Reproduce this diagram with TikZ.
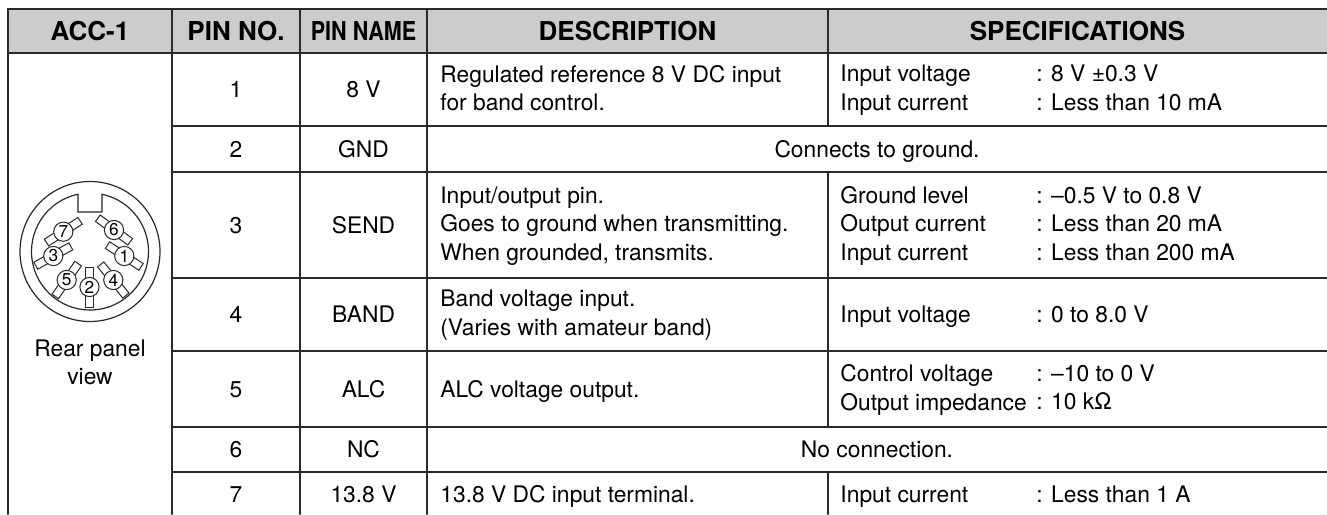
\documentclass[tikz,border=0pt]{standalone}
\usepackage{fontspec}
\setmainfont{TeX Gyre Heros}
\usetikzlibrary{calc,positioning}
\definecolor{rule}{HTML}{2A2A2A}
\definecolor{headgray}{HTML}{CCCCCC}

\begin{document}
\begin{tikzpicture}[x=0.5pt,y=-0.5pt,line cap=round]
      \useasboundingbox (0,0) rectangle (1327,514);

      \tikzstyle{grid}=[line width=1pt, draw=rule];
      \tikzstyle{head}=[font=\fontsize{13}{15}\selectfont\bfseries, inner sep=0pt];
      \tikzstyle{cell}=[font=\fontsize{11.4}{14.2}\selectfont, inner sep=0pt, align=center,
        execute at begin node=\strut, execute at end node=\strut, yshift=-1.3pt];
      \tikzstyle{body}=[cell, align=left, anchor=west];

      % header band and rules
      \fill[headgray] (8,9) rectangle (1327,53);
      \draw[grid] (1327,9) -- (8,9) -- (8,514);
      \draw[grid] (8,53) -- (1327,53);
      \draw[grid] (172,9) -- (172,514);
      \draw[grid] (300,9) -- (300,514);
      \draw[grid] (427,9) -- (427,514);
      \draw[grid] (828,9) -- (828,126);
      \draw[grid] (828,172) -- (828,427);
      \draw[grid] (828,472) -- (828,514);
      \draw[grid] (172,126) -- (1327,126);
      \draw[grid] (172,172) -- (1327,172);
      \draw[grid] (172,278) -- (1327,278);
      \draw[grid] (172,351) -- (1327,351);
      \draw[grid] (172,427) -- (1327,427);
      \draw[grid] (172,472) -- (1327,472);

      \node[head] (hacc)  at (90,31)     {ACC-1};
      \node[head] (hno)   at (236,31)    {PIN NO.};
      \node[head] (hname) at (363.5,31)  {\scalebox{0.83}[1]{PIN NAME}};
      \node[head] (hdesc) at (627.5,31)  {DESCRIPTION};
      \node[head] (hspec) at (1077.5,31) {SPECIFICATIONS};

      % connector, rear panel view
      \coordinate (ctr) at (90,251.5);
      \tikzstyle{shell}=[line width=0.6pt, draw=rule];
      \draw[shell] (ctr) circle[radius=70];
      \draw[shell] (78,212) -- (78,194.25) arc[start angle=-101.84, end angle=-438.16, radius=58.5] -- (102,212) -- cycle;
      \tikzstyle{pinbar}=[draw=rule, line width=0.5pt, fill=white, minimum width=20pt, minimum height=4pt, inner sep=0pt];
      \tikzstyle{pinnum}=[circle, draw=rule, line width=0.5pt, fill=white, minimum size=9.6pt, inner sep=0pt, font=\fontsize{8.6}{8.6}\selectfont];
      \coordinate (P1) at (124.3,256);
      \coordinate (P2) at (89.5,287);
      \coordinate (P3) at (53.3,256);
      \coordinate (P4) at (113.3,280);
      \coordinate (P5) at (66.7,280);
      \coordinate (P6) at (114,230);
      \coordinate (P7) at (63.3,231.7);
      \node[pinbar, rotate=-33] (B1) at (P1) {};
      \node[pinbar, rotate=90]  (B2) at (P2) {};
      \node[pinbar, rotate=29]  (B3) at (P3) {};
      \node[pinbar, rotate=-51] (B4) at (P4) {};
      \node[pinbar, rotate=55]  (B5) at (P5) {};
      \node[pinbar, rotate=-36] (B6) at (P6) {};
      \node[pinbar, rotate=33]  (B7) at (P7) {};
      \node[pinnum] (N1) at (P1) {1};
      \node[pinnum] (N2) at (P2) {2};
      \node[pinnum] (N3) at (P3) {3};
      \node[pinnum] (N4) at (P4) {4};
      \node[pinnum] (N5) at (P5) {5};
      \node[pinnum] (N6) at (P6) {6};
      \node[pinnum] (N7) at (P7) {7};
      \node[cell] (rear) at (90,364) {Rear panel\\view};

      % pin rows
      \node[cell] (no1) at (236,89.5) {1};
      \node[cell] (nm1) at (363.5,89.5) {8 V};
      \node[body] (de1) at (440,89.5) {Regulated reference 8 V DC input\\for band control.};
      \node[body] (sp1) at (840,89.5) {Input voltage\\Input current};
      \node[body] (va1) at (1036,89.5) {: 8 V ±0.3 V\\: Less than 10 mA};

      \node[cell] (no2) at (236,149) {2};
      \node[cell] (nm2) at (363.5,149) {GND};
      \node[cell] (de2) at (877,149) {Connects to ground.};

      \node[cell] (no3) at (236,225) {3};
      \node[cell] (nm3) at (363.5,225) {SEND};
      \node[body] (de3) at (440,225) {Input/output pin.\\Goes to ground when transmitting.\\When grounded, transmits.};
      \node[body] (sp3) at (840,225) {Ground level\\Output current\\Input current};
      \node[body] (va3) at (1036,225) {: –0.5 V to 0.8 V\\: Less than 20 mA\\: Less than 200 mA};

      \node[cell] (no4) at (236,314.5) {4};
      \node[cell] (nm4) at (363.5,314.5) {BAND};
      \node[body] (de4) at (440,314.5) {Band voltage input.\\(Varies with amateur band)};
      \node[body] (sp4) at (840,314.5) {Input voltage};
      \node[body] (va4) at (1036,314.5) {: 0 to 8.0 V};

      \node[cell] (no5) at (236,389) {5};
      \node[cell] (nm5) at (363.5,389) {ALC};
      \node[body] (de5) at (440,389) {ALC voltage output.};
      \node[body] (sp5) at (840,389) {Control voltage\\Output impedance};
      \node[body] (va5) at (1036,389) {: –10 to 0 V\\: 10 kΩ};

      \node[cell] (no6) at (236,449.5) {6};
      \node[cell] (nm6) at (363.5,449.5) {NC};
      \node[cell] (de6) at (877,449.5) {No connection.};

      \node[cell] (no7) at (236,494) {7};
      \node[cell] (nm7) at (363.5,494) {13.8 V};
      \node[body] (de7) at (440,494) {13.8 V DC input terminal.};
      \node[body] (sp7) at (840,494) {Input current};
      \node[body] (va7) at (1036,494) {: Less than 1 A};
    \end{tikzpicture}
\end{document}
